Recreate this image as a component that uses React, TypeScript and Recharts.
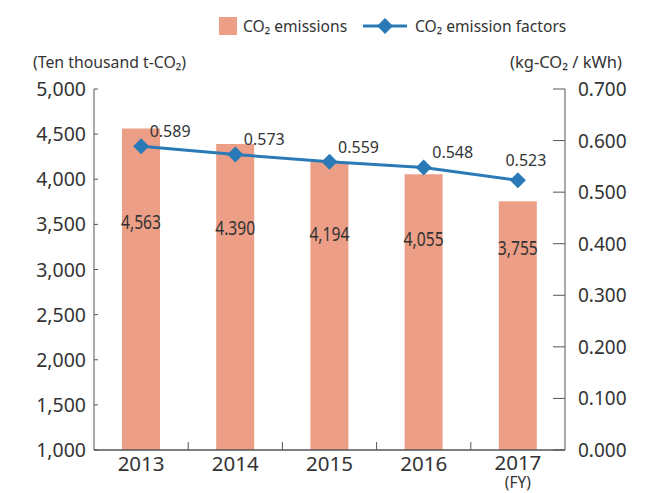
import React from 'react';
import { ComposedChart, Bar, Line, XAxis, YAxis, LabelList } from 'recharts';

const years = ['2013', '2014', '2015', '2016', '2017'];
const emissions = [4563, 4390, 4194, 4055, 3755];
const emissionLabels = ['4,563', '4.390', '4,194', '4,055', '3,755'];
const factors = [0.589, 0.573, 0.559, 0.548, 0.523];
const leftTicks = [1000, 1500, 2000, 2500, 3000, 3500, 4000, 4500, 5000];
const rightTicks = [0, 0.1, 0.2, 0.3, 0.4, 0.5, 0.6, 0.7];
const fiscalYearNote = '(FY)';

const BAR_COLOR = '#EC9F86';
const LINE_COLOR = '#2A7AB7';
const TEXT = '#333333';
const AXIS = '#555555';
const FONT = '"Noto Sans", "Open Sans", sans-serif';

const data = years.map((y, i) => ({
  year: y,
  emissions: emissions[i],
  label: emissionLabels[i],
  factor: factors[i],
}));

const LeftTick = (props: any) => {
  const { x, y, payload } = props;
  return (
    <g>
      <line x1={x + 8} x2={x + 12} y1={y} y2={y} stroke={AXIS} strokeWidth={1} />
      <text x={x} y={y} dy={7} textAnchor="end" fontSize={19.5} fill={TEXT} fontFamily={FONT}>
        {Number(payload.value).toLocaleString('en-US')}
      </text>
    </g>
  );
};

const RightTick = (props: any) => {
  const { x, y, payload } = props;
  return (
    <g>
      <line x1={x - 13} x2={x - 25} y1={y} y2={y} stroke={AXIS} strokeWidth={1} />
      <text x={x} y={y} dy={7} textAnchor="start" fontSize={19} fill={TEXT} fontFamily={FONT}>
        {Number(payload.value).toFixed(3)}
      </text>
    </g>
  );
};

const XTick = (props: any) => {
  const { x, y, payload, index } = props;
  const half = payload && payload.offset ? payload.offset : 47.1;
  const axisY = y - 6;
  const last = index === years.length - 1;
  return (
    <g>
      {!last && (
        <line x1={x + half} x2={x + half} y1={axisY} y2={axisY - 8} stroke={AXIS} strokeWidth={1} />
      )}
      <text x={x} y={y} textAnchor="middle" fill={TEXT} fontFamily={FONT}>
        <tspan x={x} dy={last ? 14 : 15} fontSize={20.5}>
          {payload.value}
        </tspan>
        {last && (
          <tspan x={x} dy={18} fontSize={15.5}>
            {fiscalYearNote}
          </tspan>
        )}
      </text>
    </g>
  );
};

const Diamond = (props: any) => {
  const { cx, cy } = props;
  if (cx == null || cy == null) return null;
  const r = 8;
  return (
    <polygon
      points={`${cx},${cy - r} ${cx + r},${cy} ${cx},${cy + r} ${cx - r},${cy}`}
      fill={LINE_COLOR}
    />
  );
};

const BarLabel = (props: any) => {
  const { x, y, width, index } = props;
  const cy = 176 + 0.36 * y;
  return (
    <text
      x={x + width / 2}
      y={cy}
      dy={7}
      textAnchor="middle"
      fontSize={19}
      textLength={40}
      lengthAdjust="spacingAndGlyphs"
      fill={TEXT}
      fontFamily={FONT}
    >
      {emissionLabels[index]}
    </text>
  );
};

const LineLabel = (props: any) => {
  const { x, y, value, index } = props;
  const last = index === years.length - 1;
  const dx = last ? 8 : 29;
  const dy = last ? -20 : -15;
  return (
    <text
      x={x + dx}
      y={y + dy}
      dy={6}
      textAnchor="middle"
      fontSize={16}
      fill={TEXT}
      fontFamily={FONT}
    >
      {Number(value).toFixed(3)}
    </text>
  );
};

const LeftTitle = () => (
  <text x={33} y={68} fontSize={15.8} fill={TEXT} fontFamily={FONT}>
    (Ten thousand t-CO₂)
  </text>
);

const RightTitle = () => (
  <text x={622} y={68} textAnchor="end" fontSize={16.5} fill={TEXT} fontFamily={FONT}>
    (kg-CO₂ / kWh)
  </text>
);

const LegendBox = () => (
  <div
    style={{
      position: 'absolute',
      left: 0,
      top: 0,
      width: 658,
      height: 50,
      fontFamily: FONT,
      fontSize: 15.6,
      color: TEXT,
      pointerEvents: 'none',
    }}
  >
    <div style={{ position: 'absolute', left: 219, top: 17, width: 18, height: 18, background: BAR_COLOR }} />
    <div style={{ position: 'absolute', left: 243, top: 15, lineHeight: '22px', whiteSpace: 'nowrap' }}>
      CO₂ emissions
    </div>
    <svg style={{ position: 'absolute', left: 362, top: 16 }} width={46} height={20}>
      <line x1={1} x2={45} y1={10} y2={10} stroke={LINE_COLOR} strokeWidth={3} />
      <polygon points="23,2 31,10 23,18 15,10" fill={LINE_COLOR} />
    </svg>
    <div style={{ position: 'absolute', left: 415, top: 15, lineHeight: '22px', whiteSpace: 'nowrap' }}>
      CO₂ emission factors
    </div>
  </div>
);

export default function App() {
  return (
    <div style={{ position: 'absolute', left: 0, top: 0, width: 658, height: 493, background: '#fff' }}>
      <ComposedChart
        width={658}
        height={493}
        data={data}
        margin={{ top: 89, right: 0, bottom: 0, left: 0 }}
      >
        <XAxis
          dataKey="year"
          height={43}
          axisLine={{ stroke: AXIS, strokeWidth: 1.5 }}
          tickLine={false}
          tickSize={0}
          tickMargin={6}
          tick={<XTick />}
          interval={0}
        />
        <YAxis
          yAxisId="left"
          orientation="left"
          width={94}
          domain={[1000, 5000]}
          ticks={leftTicks}
          allowDataOverflow
          axisLine={{ stroke: AXIS, strokeWidth: 1 }}
          tickLine={false}
          tickSize={0}
          tickMargin={8}
          tick={<LeftTick />}
          label={<LeftTitle />}
        />
        <YAxis
          yAxisId="right"
          orientation="right"
          width={93}
          domain={[0, 0.7]}
          ticks={rightTicks}
          axisLine={{ stroke: AXIS, strokeWidth: 1 }}
          tickLine={false}
          tickSize={0}
          tickMargin={13}
          tick={<RightTick />}
          label={<RightTitle />}
        />
        <Bar yAxisId="left" dataKey="emissions" fill={BAR_COLOR} barSize={38} isAnimationActive={false}>
          <LabelList dataKey="emissions" content={<BarLabel />} />
        </Bar>
        <Line
          yAxisId="right"
          dataKey="factor"
          stroke={LINE_COLOR}
          strokeWidth={3}
          dot={<Diamond />}
          activeDot={false}
          isAnimationActive={false}
        >
          <LabelList dataKey="factor" content={<LineLabel />} />
        </Line>
      </ComposedChart>
      <LegendBox />
    </div>
  );
}
